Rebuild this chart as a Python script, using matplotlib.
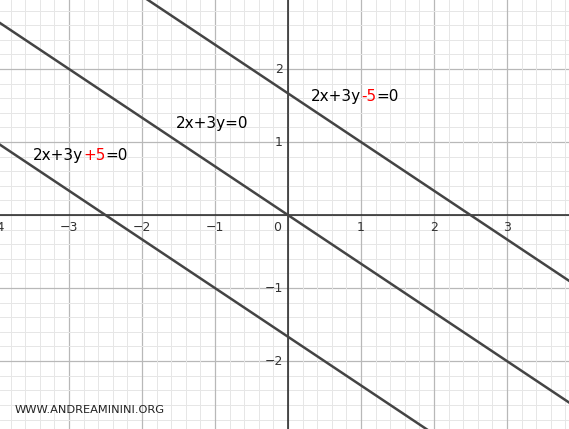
import numpy as np
import matplotlib.pyplot as plt

# line coefficients: a*x + b*y + c = 0
coef_a = [2, 2, 2]
coef_b = [3, 3, 3]
coef_c = [-5, 0, 5]

# label positions (data coords) and text pieces
label_x = [0.32, -1.53, -3.49]
label_y = [1.63, 1.26, 0.82]
label_parts = [
    [("2x+3y", "black"), ("-5", "red"), ("=0", "black")],
    [("2x+3y=0", "black")],
    [("2x+3y", "black"), ("+5", "red"), ("=0", "black")],
]

x_ticks = [-4, -3, -2, -1, 1, 2, 3]
y_ticks = [-2, -1, 1, 2, 3]

xmin, xmax = -3.945, 3.85
ymin, ymax = -2.93, 2.945

fig = plt.figure(figsize=(5.69, 4.29), dpi=100)
ax = fig.add_axes([0, 0, 1, 1])
ax.set_xlim(xmin, xmax)
ax.set_ylim(ymin, ymax)
for s in ax.spines.values():
    s.set_visible(False)
ax.set_xticks([])
ax.set_yticks([])

# grid
for v in np.arange(-5, 5.01, 0.2):
    major = abs(v - round(v)) < 1e-6
    c = "#b8b8b8" if major else "#e6e6e6"
    lw = 0.9 if major else 0.7
    ax.axvline(v, color=c, lw=lw, zorder=0)
    ax.axhline(v, color=c, lw=lw, zorder=0)
ax.axhline(0, color="#222222", lw=1.1, zorder=1)
ax.axvline(0, color="#222222", lw=1.1, zorder=1)

# tick labels
for t in x_ticks:
    ax.text(t, -0.17, str(t).replace("-", "\u2212"), ha="center", va="center",
            fontsize=9, color="#333333")
ax.text(-0.15, -0.17, "0", ha="center", va="center", fontsize=9, color="#333333")
for t in y_ticks:
    ax.text(-0.07, t, str(t).replace("-", "\u2212"), ha="right", va="center",
            fontsize=9, color="#333333")

# lines
xs = np.array([xmin - 1, xmax + 1])
for a, b, c in zip(coef_a, coef_b, coef_c):
    ax.plot(xs, -(a * xs + c) / b, color="#444444", lw=1.8, zorder=3)

# equation labels with coloured parts
fig.canvas.draw()
renderer = fig.canvas.get_renderer()
for lx, ly, parts in zip(label_x, label_y, label_parts):
    x_px, y_px = ax.transData.transform((lx, ly))
    for txt, col in parts:
        t = ax.text(x_px, y_px, txt, color=col, fontsize=11, va="center",
                    ha="left", transform=None, zorder=4)
        bb = t.get_window_extent(renderer=renderer)
        x_px += bb.width

ax.text(15 / 569, 1 - 410 / 429, "WWW.ANDREAMININI.ORG", transform=ax.transAxes,
        fontsize=8.2, color="#222222", va="center", ha="left")

fig.savefig("out.png", dpi=100)
